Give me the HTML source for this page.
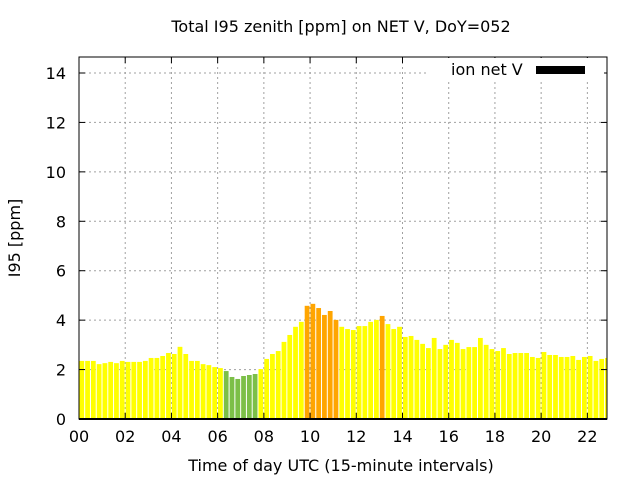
<!DOCTYPE html>
<html><head><meta charset="utf-8"><style>
body{margin:0;background:#fff}
svg{display:block;font-family:"DejaVu Sans","Liberation Sans",sans-serif}
</style></head><body>
<svg id="c" width="640" height="480">
<rect width="640" height="480" fill="#fff"/>
<text x="341" y="32" font-size="16" text-anchor="middle">Total I95 zenith [ppm] on NET V, DoY=052</text>
<text x="341" y="471" font-size="16" text-anchor="middle">Time of day UTC (15-minute intervals)</text>
<text x="20" y="238" font-size="16" text-anchor="middle" transform="rotate(-90 20 238)">I95 [ppm]</text>
<g id="grid"></g><g id="bars"></g><g id="axes"></g>
<g>
<rect x="428" y="58" width="176" height="22" fill="#fff"/>
<text x="451" y="75" font-size="16">ion net V</text>
<rect x="536" y="66" width="49" height="8" fill="#000"/>
</g>
</svg>
<script>
const values=[2.35,2.35,2.35,2.22,2.26,2.31,2.26,2.35,2.31,2.31,2.31,2.35,2.47,2.47,2.55,2.67,2.63,2.92,2.63,2.35,2.35,2.22,2.18,2.10,2.06,
1.94,1.70,1.62,1.74,1.78,1.82,2.02,2.43,2.63,2.75,3.12,3.40,3.73,3.93,4.58,4.66,4.49,4.21,4.37,4.01,3.73,3.64,3.60,3.76,3.76,3.93,4.01,4.17,
3.84,3.64,3.73,3.32,3.36,3.20,3.04,2.87,3.28,2.83,3.0,3.20,3.08,2.83,2.91,2.91,3.28,3.0,2.83,2.75,2.87,2.63,2.67,2.67,2.67,2.51,2.47,2.71,
2.59,2.59,2.51,2.51,2.55,2.39,2.51,2.55,2.35,2.43,2.47];
const colors=[];
for(let i=0;i<values.length;i++){colors.push((i>=25&&i<=30)?'#7cbf48':((i>=39&&i<=44)||i==52)?'#ffa500':'#ffff00');}
const yTicks=[0,2,4,6,8,10,12,14];
const xTicks=['00','02','04','06','08','10','12','14','16','18','20','22'];
const L=79,R=607,T=57,B=419,XMAX=22.85;
const X=h=>L+h/XMAX*(R-L);
const Y=v=>B-v/14*(B-73);
const NS='http://www.w3.org/2000/svg';
function mk(t,a,p){const e=document.createElementNS(NS,t);for(const k in a)e.setAttribute(k,a[k]);p.appendChild(e);return e;}
const grid=document.getElementById('grid'),bars=document.getElementById('bars'),axes=document.getElementById('axes');
yTicks.forEach(v=>{
 if(v>0){const g=mk('line',{x1:L,x2:R,y1:Y(v),y2:Y(v),stroke:'#a0a0a0','stroke-dasharray':'2,3'},grid);
 
 }
 const t=mk('text',{x:L-13,y:Y(v)+6,'font-size':16,'text-anchor':'end'},axes);t.textContent=v;
 
 
 mk('line',{x1:L,x2:L+6,y1:Y(v),y2:Y(v),stroke:'#000'},axes);
 mk('line',{x1:R,x2:R-6,y1:Y(v),y2:Y(v),stroke:'#000'},axes);
});
xTicks.forEach((s,i)=>{
 const h=i*2,x=X(h);
 if(h>0){const g=mk('line',{x1:x,x2:x,y1:T,y2:B,stroke:'#a0a0a0','stroke-dasharray':'2,3'},grid);
 
 }
 const t=mk('text',{x:x,y:B+23,'font-size':16,'text-anchor':'middle'},axes);t.textContent=s;
 
 
 mk('line',{x1:x,x2:x,y1:B,y2:B-6,stroke:'#000'},axes);
 mk('line',{x1:x,x2:x,y1:T,y2:T+6,stroke:'#000'},axes);
});
values.forEach((v,i)=>{
 const x0=X(i*0.25)+0.4;let w=X(0.25)-L-1.0;
 if(x0+w>R)w=R-x0; if(w<=0)return;
 const r=mk('rect',{x:x0,y:Y(v),width:w,height:B-Y(v),fill:colors[i]},bars);
 
 
});
const f=mk('rect',{x:L,y:T,width:R-L,height:B-T,fill:'none',stroke:'#000','stroke-width':1},axes);


mk('line',{x1:L,x2:R,y1:B,y2:B,stroke:'#000','stroke-width':2},axes);
</script>
</body></html>
